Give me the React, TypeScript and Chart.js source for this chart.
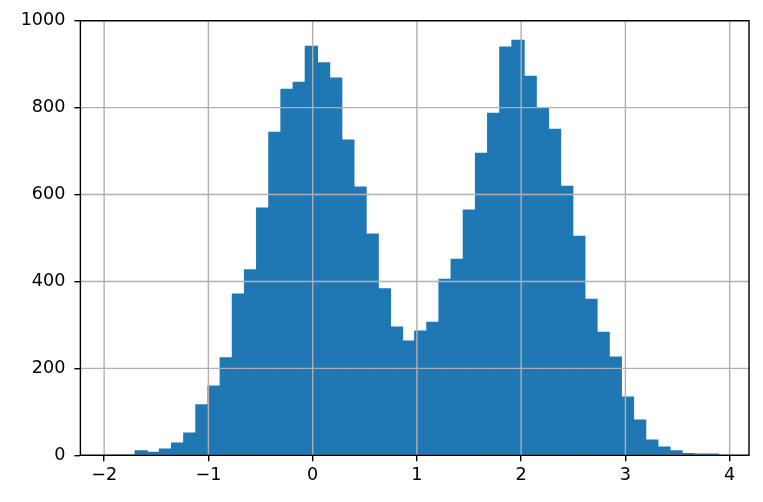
import React, { useEffect, useRef } from "react";
import { Chart, registerables } from "chart.js";

Chart.register(...registerables);

// Histogram bin edges (51 edges -> 50 bins)
const binEdges: number[] = [
  -1.936, -1.819, -1.703, -1.586, -1.470, -1.353, -1.236, -1.120, -1.003, -0.887,
  -0.770, -0.653, -0.537, -0.420, -0.304, -0.187, -0.070, 0.046, 0.163, 0.279,
  0.396, 0.513, 0.629, 0.746, 0.862, 0.979, 1.096, 1.212, 1.329, 1.445,
  1.562, 1.679, 1.795, 1.912, 2.028, 2.145, 2.262, 2.378, 2.495, 2.611,
  2.728, 2.845, 2.961, 3.078, 3.194, 3.311, 3.428, 3.544, 3.661, 3.777,
  3.894,
];

// Counts per bin
const counts: number[] = [
  0, 0, 10, 7, 14, 28, 51, 116, 159, 224,
  371, 427, 569, 743, 842, 858, 941, 903, 868, 725,
  617, 509, 383, 295, 263, 286, 306, 405, 451, 564,
  695, 787, 939, 955, 872, 798, 750, 619, 504, 359,
  283, 226, 134, 81, 35, 19, 10, 4, 3, 3,
];

const xTicks: number[] = [-2, -1, 0, 1, 2, 3, 4];
const yTicks: number[] = [0, 200, 400, 600, 800, 1000];

const fmt = (v: number) => (v < 0 ? "\u2212" + Math.abs(v) : String(v));

const overlayPlugin = {
  id: "mplOverlay",
  afterDatasetsDraw(chart: any) {
    const { ctx, chartArea } = chart;
    const xs = chart.scales.x;
    const ys = chart.scales.y;
    ctx.save();
    ctx.strokeStyle = "#b0b0b0";
    ctx.lineWidth = 1.4;
    ctx.beginPath();
    xTicks.forEach((v) => {
      const px = xs.getPixelForValue(v);
      ctx.moveTo(px, chartArea.top);
      ctx.lineTo(px, chartArea.bottom);
    });
    yTicks.forEach((v) => {
      const py = ys.getPixelForValue(v);
      ctx.moveTo(chartArea.left, py);
      ctx.lineTo(chartArea.right, py);
    });
    ctx.stroke();
    ctx.strokeStyle = "#000";
    ctx.lineWidth = 1.4;
    ctx.strokeRect(
      chartArea.left,
      chartArea.top,
      chartArea.right - chartArea.left,
      chartArea.bottom - chartArea.top
    );
    ctx.restore();
  },
};

export default function App() {
  const ref = useRef<HTMLCanvasElement | null>(null);

  useEffect(() => {
    document.body.style.margin = "0";
    if (!ref.current) return;
    const data = counts.map((c, i) => ({
      x: (binEdges[i] + binEdges[i + 1]) / 2,
      y: c,
    }));
    const font = { family: "DejaVu Sans", size: 17.6 };
    const chart = new Chart(ref.current, {
      type: "bar",
      data: {
        datasets: [
          {
            data,
            backgroundColor: "#1f77b4",
            borderColor: "#1f77b4",
            borderWidth: 0,
            inflateAmount: 0.6,
            barPercentage: 1,
            categoryPercentage: 1,
          } as any,
        ],
      },
      options: {
        animation: false,
        responsive: false,
        layout: { padding: { top: 20.7, right: 14, left: 0, bottom: 0 } },
        plugins: { legend: { display: false }, tooltip: { enabled: false } },
        scales: {
          x: {
            type: "linear",
            min: -2.2275,
            max: 4.1855,
            offset: false,
            afterBuildTicks: (s: any) => {
              s.ticks = xTicks.map((v) => ({ value: v }));
            },
            afterFit: (s: any) => {
              s.height = 46.7;
            },
            grid: {
              display: true,
              offset: false,
              drawOnChartArea: false,
              drawTicks: true,
              tickLength: 6,
              color: "#000",
              lineWidth: 1.4,
            },
            border: { display: false },
            ticks: {
              color: "#000",
              font,
              padding: 4,
              maxRotation: 0,
              autoSkip: false,
              callback: (v: any) => fmt(Number(v)),
            },
          },
          y: {
            type: "linear",
            min: 0,
            max: 1000,
            afterBuildTicks: (s: any) => {
              s.ticks = yTicks.map((v) => ({ value: v }));
            },
            afterFit: (s: any) => {
              s.width = 80.4;
            },
            grid: {
              display: true,
              offset: false,
              drawOnChartArea: false,
              drawTicks: true,
              tickLength: 6,
              color: "#000",
              lineWidth: 1.4,
            },
            border: { display: false },
            ticks: {
              color: "#000",
              font,
              padding: 9,
              callback: (v: any) => fmt(Number(v)),
            },
          },
        },
      },
      plugins: [overlayPlugin],
    });
    return () => chart.destroy();
  }, []);

  return (
    <div style={{ position: "absolute", left: 0, top: 0, width: 763, height: 502, background: "#fff" }}>
      <canvas ref={ref} width={763} height={502} style={{ width: 763, height: 502 }} />
    </div>
  );
}
